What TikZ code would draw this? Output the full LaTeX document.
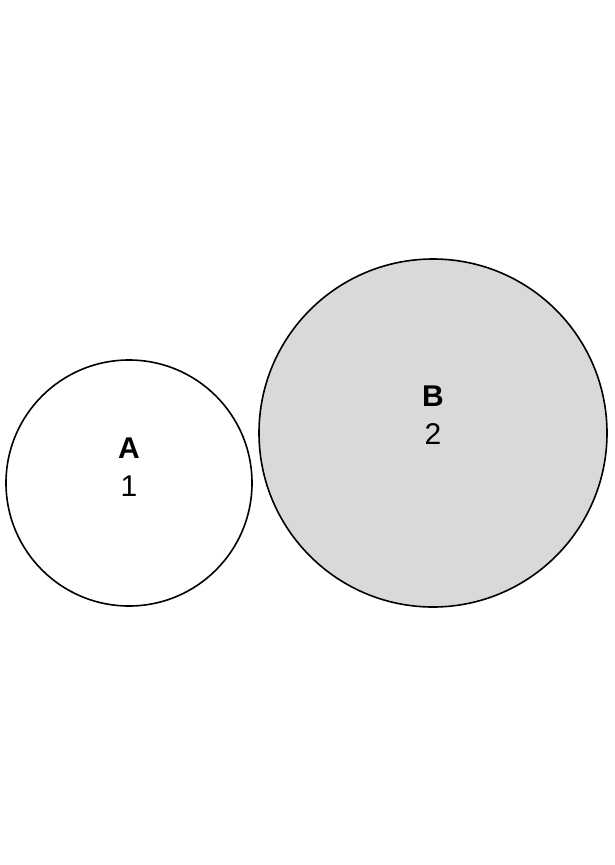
\documentclass[tikz,border=0pt]{standalone}
\usepackage{fontspec}
\setmainfont{Liberation Sans}
\begin{document}
\begin{tikzpicture}[x=1pt,y=-1pt,
  setcircle/.style={circle,draw=black,line width=1.6pt,inner sep=0pt},
  lbl/.style={font=\fontsize{30}{32}\selectfont\bfseries,inner sep=0pt,anchor=base},
  num/.style={font=\fontsize{30}{32}\selectfont,inner sep=0pt,anchor=base}]
\useasboundingbox (0,0) rectangle (614,865);
\node[setcircle,fill=white,minimum size=246pt] (A) at (129,483) {};
\node[setcircle,fill=black!15,minimum size=348pt] (B) at (433,433) {};
\node[lbl] (Alab) at (129,458) {A};
\node[num] (Anum) at (129,496) {1};
\node[lbl] (Blab) at (433,406) {B};
\node[num] (Bnum) at (433,444) {2};
\end{tikzpicture}
\end{document}
